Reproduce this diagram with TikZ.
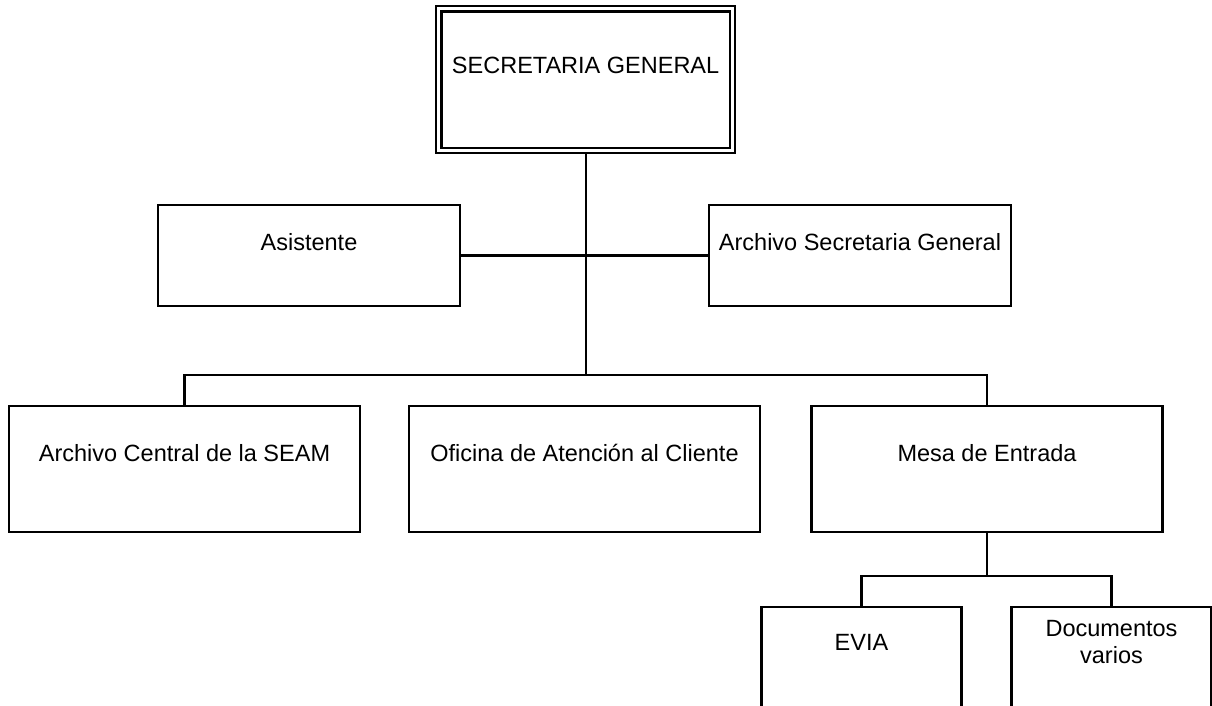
\documentclass[tikz,border=0pt]{standalone}
\usepackage{fontspec}
\setmainfont{Liberation Sans}
\usetikzlibrary{positioning}
\tikzset{
  unit/.style={draw,line width=2.2pt,align=center,inner sep=0pt,
    font=\fontsize{23.5}{27}\selectfont,text height=17pt},
  topbox/.style={unit,double,double distance=3pt,line width=2.3pt,outer sep=3.8pt,
    minimum width=293.7pt,minimum height=141.7pt,text depth=29.8pt},
  sidebox/.style={unit,minimum width=302pt,minimum height=101pt,text depth=27.6pt},
  rowbox/.style={unit,minimum width=351pt,minimum height=126pt,text depth=32.6pt},
  leafbox/.style={unit,minimum width=200pt,minimum height=126pt,text depth=56.6pt},
  link/.style={line width=2.2pt}
}

\begin{document}
\begin{tikzpicture}[x=1pt,y=-1pt]
\clip (0,0) rectangle (1212,706);

% Head
\node[topbox] (sg) at (585.6,79.6) {SECRETARIA GENERAL};

% Staff row
\node[sidebox] (asis) at (309,255.5) {Asistente};
\node[sidebox] (asg) at (860,255.5) {Archivo Secretaria General};

% Units
\node[rowbox] (acsm) at (184.5,469) {Archivo Central de la SEAM};
\node[rowbox] (oac) at (584.5,469) {Oficina de Atención al Cliente};
\node[rowbox] (mesa) at (987,469) {Mesa de Entrada};

% Under Mesa de Entrada
\node[leafbox] (evia) at (861.5,670) {EVIA};
\node[leafbox,text depth=30.6pt] (docs) at (1111.5,670) {Documentos\\varios};

% Lines
\coordinate (bus) at (585,375);
\coordinate (sub) at (987,576);
\draw[link] (sg.south) -- (sg.south |- bus);
\draw[link] (asis.east) -- (asg.west);
\draw[link] (acsm.north) -- (acsm.north |- bus) -- (mesa.north |- bus) -- (mesa.north);
\draw[link] (mesa.south) -- (mesa.south |- sub);
\draw[link] (evia.north) -- (evia.north |- sub) -- (docs.north |- sub) -- (docs.north);

\end{tikzpicture}
\end{document}
